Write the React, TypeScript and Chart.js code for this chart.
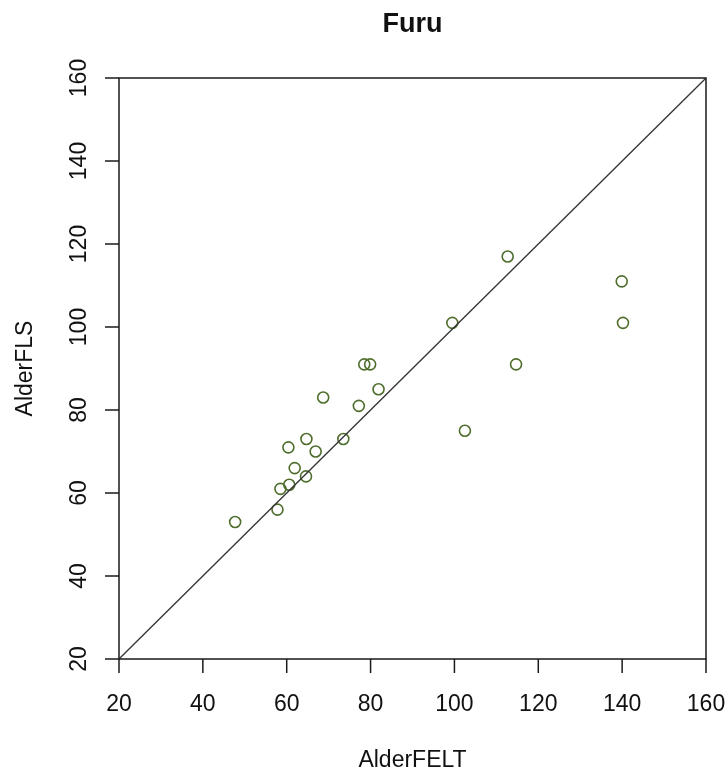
import React, { useEffect, useRef } from "react";
import { Chart, registerables } from "chart.js";

Chart.register(...registerables);

const title = "Furu";
const xTitle = "AlderFELT";
const yTitle = "AlderFLS";
const alderFELT = [47.7, 57.8, 58.5, 60.6, 60.4, 61.9, 64.6, 64.7, 66.9, 68.7, 73.5, 77.2, 78.5, 79.9, 81.9, 99.5, 102.5, 112.7, 114.7, 139.9, 140.2];
const alderFLS = [53, 56, 61, 62, 71, 66, 64, 73, 70, 83, 73, 81, 91, 91, 85, 101, 75, 117, 91, 111, 101];
const xTicks = [20, 40, 60, 80, 100, 120, 140, 160];
const yTicks = [20, 40, 60, 80, 100, 120, 140, 160];
const diagX = [20, 160];
const diagY = [20, 160];

const FONT = "'Liberation Sans', Arial, Helvetica, sans-serif";

const axesPlugin = {
  id: "rAxes",
  afterDraw(chart: any) {
    const ctx = chart.ctx;
    const a = chart.chartArea;
    const xs = chart.scales.x;
    const ys = chart.scales.y;
    ctx.save();
    ctx.strokeStyle = "#1a1a1a";
    ctx.lineWidth = 1.5;
    ctx.strokeRect(a.left, a.top, a.right - a.left, a.bottom - a.top);
    ctx.fillStyle = "#111";
    ctx.font = `23px ${FONT}`;
    ctx.textAlign = "center";
    ctx.textBaseline = "alphabetic";
    xTicks.forEach((v) => {
      const px = xs.getPixelForValue(v);
      ctx.beginPath();
      ctx.moveTo(px, a.bottom);
      ctx.lineTo(px, a.bottom + 14);
      ctx.stroke();
      ctx.fillText(String(v), px, 711);
    });
    yTicks.forEach((v) => {
      const py = ys.getPixelForValue(v);
      ctx.beginPath();
      ctx.moveTo(a.left - 14, py);
      ctx.lineTo(a.left, py);
      ctx.stroke();
      ctx.save();
      ctx.translate(86, py);
      ctx.rotate(-Math.PI / 2);
      ctx.fillText(String(v), 0, 0);
      ctx.restore();
    });
    const cx = (a.left + a.right) / 2;
    const cy = (a.top + a.bottom) / 2;
    ctx.fillText(xTitle, cx, 767);
    ctx.save();
    ctx.translate(32, cy);
    ctx.rotate(-Math.PI / 2);
    ctx.fillText(yTitle, 0, 0);
    ctx.restore();
    ctx.font = `bold 27px ${FONT}`;
    ctx.fillText(title, cx, 32);
    ctx.restore();
  },
};

export default function App() {
  const ref = useRef<HTMLCanvasElement | null>(null);
  useEffect(() => {
    if (!ref.current) return;
    const points = alderFELT.map((x, i) => ({ x, y: alderFLS[i] }));
    const diag = diagX.map((x, i) => ({ x, y: diagY[i] }));
    const chart = new Chart(ref.current, {
      type: "scatter",
      data: {
        datasets: [
          {
            type: "line",
            data: diag,
            borderColor: "#333333",
            borderWidth: 1.3,
            pointRadius: 0,
            fill: false,
          } as any,
          {
            data: points,
            pointStyle: "circle",
            pointRadius: 5.5,
            pointHoverRadius: 5.5,
            pointBorderWidth: 1.6,
            borderColor: "#4f6e2c",
            backgroundColor: "rgba(0,0,0,0)",
          },
        ],
      },
      options: {
        responsive: false,
        animation: false,
        events: [],
        layout: { padding: { left: 119, top: 78, right: 20, bottom: 112 } },
        plugins: { legend: { display: false }, tooltip: { enabled: false }, title: { display: false } },
        scales: {
          x: { type: "linear", min: 20, max: 160, display: false },
          y: { type: "linear", min: 20, max: 160, display: false },
        },
      },
      plugins: [axesPlugin],
    });
    return () => chart.destroy();
  }, []);
  return (
    <div style={{ position: "fixed", left: 0, top: 0, width: 726, height: 771, background: "#fff" }}>
      <canvas ref={ref} width={726} height={771} />
    </div>
  );
}
